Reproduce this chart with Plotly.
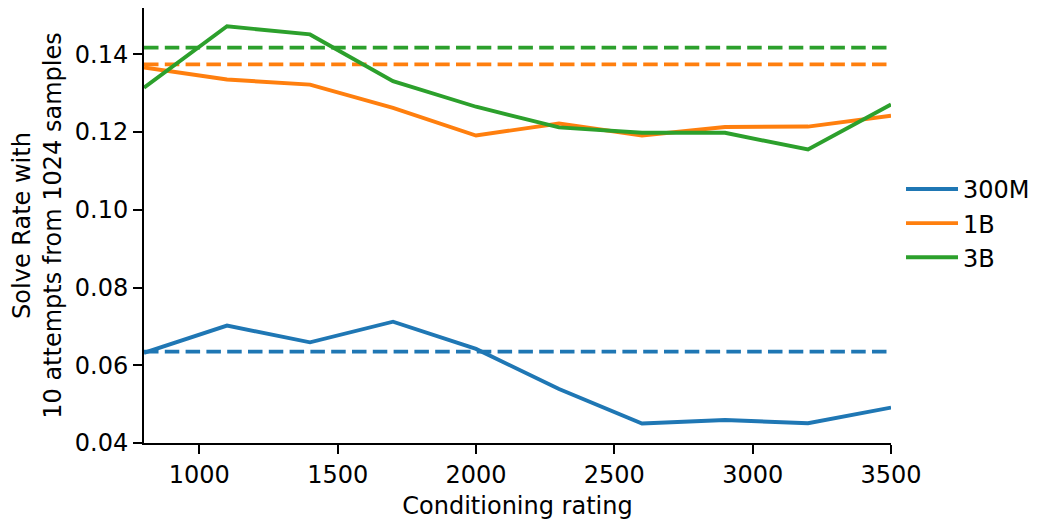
import plotly.graph_objects as go

ratings = [800, 1100, 1400, 1700, 2000, 2300, 2600, 2900, 3200, 3500]
series_names = ["300M", "1B", "3B"]
solve_300m = [0.0632, 0.0702, 0.0659, 0.0712, 0.0642, 0.0539, 0.0450, 0.0459, 0.0451, 0.0491]
solve_1b = [0.1366, 0.1335, 0.1322, 0.1262, 0.1191, 0.1222, 0.1191, 0.1213, 0.1214, 0.1242]
solve_3b = [0.1314, 0.1472, 0.1451, 0.1331, 0.1265, 0.1212, 0.1198, 0.1198, 0.1155, 0.1271]
baselines = [0.0635, 0.1374, 0.1417]
colors = ["#1f77b4", "#ff7f0e", "#2ca02c"]
x_ticks = [1000, 1500, 2000, 2500, 3000, 3500]
y_ticks = [0.04, 0.06, 0.08, 0.10, 0.12, 0.14]

FS = 24
LW = 3.9
fig = go.Figure()
all_series = [solve_300m, solve_1b, solve_3b]
for name, vals, base, col in zip(series_names, all_series, baselines, colors):
    fig.add_trace(go.Scatter(x=ratings, y=vals, mode="lines", name=name,
                             line=dict(color=col, width=LW)))
    fig.add_trace(go.Scatter(x=[ratings[0], ratings[-1]], y=[base, base], mode="lines",
                             showlegend=False,
                             line=dict(color=col, width=LW, dash="14.5px,6.3px")))

axis_common = dict(showgrid=False, zeroline=False, showline=True, linecolor="black",
                   linewidth=2, ticks="outside", ticklen=9, tickwidth=2,
                   tickcolor="black", tickfont=dict(size=FS, color="black"))
fig.update_xaxes(range=[800, 3500], tickvals=x_ticks, **axis_common,
                 title=dict(text="Conditioning rating", font=dict(size=FS, color="black"), standoff=9))
fig.update_yaxes(range=[0.04, 0.1519], tickvals=y_ticks, tickformat=".2f", **axis_common,
                 title=dict(text="Solve Rate with<br>10 attempts from 1024 samples",
                            font=dict(size=FS, color="black"), standoff=6))
fig.update_layout(
    width=1047, height=523,
    margin=dict(l=143.5, r=155.5, t=8, b=80.3),
    plot_bgcolor="white", paper_bgcolor="white",
    font=dict(family="DejaVu Sans", size=FS, color="black"),
    legend=dict(x=1.0134, y=0.505, xanchor="left", yanchor="middle", font=dict(size=FS),
                itemwidth=52, bgcolor="rgba(0,0,0,0)"),
)
fig.write_html("out.html", config={"displayModeBar": False},
               post_script="document.body.style.margin='0';document.body.style.padding='0';")
